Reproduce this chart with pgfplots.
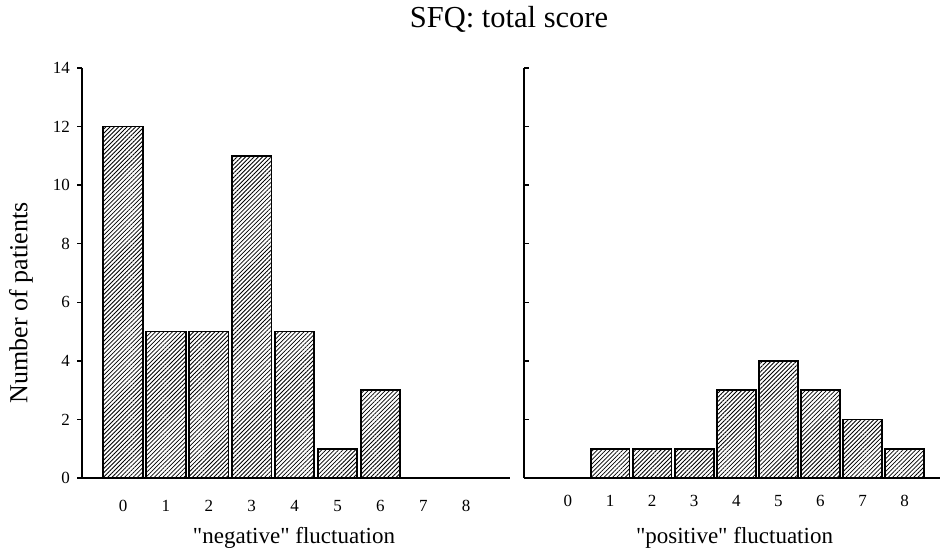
\documentclass[border=0pt]{standalone}
\usepackage{fontspec}
\setmainfont{Liberation Serif}
\usepackage{pgfplots}
\pgfplotsset{compat=1.18}
\usetikzlibrary{patterns.meta}

\pgfplotsset{
  hist/.style={
    scale only axis,
    height=205pt,
    ymin=0, ymax=14,
    ytick={0,2,...,14},
    axis x line=bottom, axis y line=left,
    axis line style={-, line width=0.9pt},
    xtick={0,...,8},
    xtick style={draw=none},
    ytick style={line width=0.7pt, black},
    major tick length=2.5pt,
    ybar, bar width=0.92,
    /pgf/number format/assume math mode=true,
    ticklabel style={font=\fontsize{8.5}{10}\selectfont},
    xticklabel style={yshift=-5pt},
  },
  hatchbar/.style={draw=black, line width=0.9pt,
      pattern={Lines[angle=45,distance=1.5pt,line width=0.4pt]}},
}

\pgfplotstableread{
x y
0 12
1 5
2 5
3 11
4 5
5 1
6 3
7 0
8 0
}\negdata

\pgfplotstableread{
x y
0 0
1 1
2 1
3 1
4 3
5 4
6 3
7 2
8 1
}\posdata

\begin{document}
\begin{tikzpicture}
\useasboundingbox (0,0) rectangle (470pt,275.5pt);

\begin{axis}[hist, at={(41pt,36.5pt)}, anchor=south west,
  width=214pt, xmin=-0.956, xmax=9.02, tick align=outside]
  \addplot[hatchbar] table[x=x,y=y] {\negdata};
\end{axis}

\begin{axis}[hist, at={(262pt,36.5pt)}, anchor=south west,
  width=208pt, xmin=-1.045, xmax=8.84, tick align=inside,
  yticklabels={}]
  \addplot[hatchbar] table[x=x,y=y] {\posdata};
\end{axis}

\node[anchor=base, font=\fontsize{15.25}{17}\selectfont] at (254.5pt,261.5pt) {SFQ: total score};
\node[rotate=90, font=\fontsize{13}{15}\selectfont] at (10.5pt,124pt) {Number of patients};
\node[anchor=base, font=\fontsize{11.5}{13}\selectfont] at (147pt,4pt) {\textquotedbl negative\textquotedbl{} fluctuation};
\node[anchor=base, font=\fontsize{11.5}{13}\selectfont] at (367.25pt,4pt) {\textquotedbl positive\textquotedbl{} fluctuation};
\end{tikzpicture}
\end{document}
